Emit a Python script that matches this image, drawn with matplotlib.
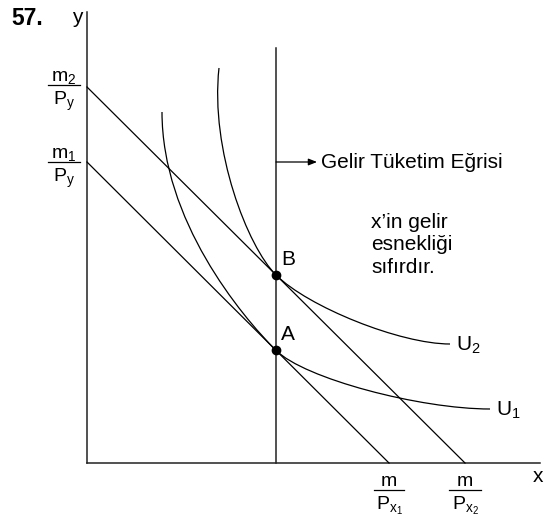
import matplotlib.pyplot as plt
import numpy as np
from matplotlib.path import Path
from matplotlib.patches import PathPatch

plt.rcParams['font.family'] = ['Liberation Sans', 'DejaVu Sans']
plt.rcParams['mathtext.fontset'] = 'custom'
plt.rcParams['mathtext.rm'] = 'Liberation Sans'
plt.rcParams['mathtext.it'] = 'Liberation Sans'

# budget line intercepts (y-axis, x-axis), in diagram units
m1_Py, m_Px1 = 301, 302
m2_Py, m_Px2 = 376, 378
x_icc = 189  # income consumption curve (vertical)
icc_top = 415
x_axis_len, y_axis_len = 453, 451

# indifference curves: top point, end point, control handles
u1_top, u1_top_handle, u1_end, u1_end_handle = (75, 351), (75, 243), (403, 54), (333, 54)
u2_top, u2_top_handle, u2_end, u2_end_handle = (132, 395), (123, 313), (363, 119), (313, 119)
u1_tan_handles = (50, 40)
u2_tan_handles = (40, 45)

fig = plt.figure(figsize=(5.49, 5.23), dpi=100)
ax = fig.add_axes([0, 0, 1, 1])
ax.set_xlim(-87, 462)
ax.set_ylim(-60, 463)
ax.axis('off')

# axes
ax.plot([0, 0], [0, y_axis_len], color='#222222', lw=1.1)
ax.plot([0, x_axis_len], [0, 0], color='#222222', lw=1.1)

# budget lines
ax.plot([0, m_Px1], [m1_Py, 0], color='black', lw=0.9)
ax.plot([0, m_Px2], [m2_Py, 0], color='black', lw=0.9)

# income consumption curve
ax.plot([x_icc, x_icc], [0, icc_top], color='#222222', lw=1.1)

def tangency(b_y, b_x):
    y = b_y * (1 - x_icc / b_x)
    return np.array([x_icc, y]), np.array([1.0, -b_y / b_x]) / np.hypot(1, b_y / b_x)

def draw_u(top, top_h, end, end_h, b_y, b_x, handles):
    p, d = tangency(b_y, b_x)
    verts = [top, top_h, tuple(p - handles[0] * d), tuple(p),
             tuple(p + handles[1] * d), end_h, end]
    codes = [Path.MOVETO] + [Path.CURVE4] * 6
    ax.add_patch(PathPatch(Path(verts, codes), fc='none', ec='black', lw=0.9))
    return p

A = draw_u(u1_top, u1_top_handle, u1_end, u1_end_handle, m1_Py, m_Px1, u1_tan_handles)
B = draw_u(u2_top, u2_top_handle, u2_end, u2_end_handle, m2_Py, m_Px2, u2_tan_handles)

ax.plot([A[0], B[0]], [A[1], B[1]], 'o', color='black', ms=6)

fs = 15
ax.text(B[0] + 5, B[1] + 6, 'B', fontsize=fs, ha='left', va='bottom')
ax.text(A[0] + 5, A[1] + 6, 'A', fontsize=fs, ha='left', va='bottom')
ax.text(u2_end[0] + 6, u2_end[1] - 1, r'$\mathrm{U}_2$', fontsize=fs, ha='left', va='center')
ax.text(u1_end[0] + 6, u1_end[1] - 1, r'$\mathrm{U}_1$', fontsize=fs, ha='left', va='center')

# arrow and labels
ax.annotate('', xy=(x_icc + 41, 301), xytext=(x_icc, 301),
            arrowprops=dict(arrowstyle='-|>,head_length=0.5,head_width=0.2', color='black', lw=0.9,
                            shrinkA=0, shrinkB=0))
ax.text(x_icc + 45, 301, 'Gelir Tüketim Eğrisi', fontsize=fs, ha='left', va='center')
ax.text(284, 250, 'x’in gelir\nesnekliği\nsıfırdır.', fontsize=fs, ha='left', va='top',
        linespacing=1.22)

ax.text(-76, 438, '57.', fontsize=16.5, fontweight='bold', ha='left', va='baseline')
ax.text(-10, 440, 'y', fontsize=fs, ha='center', va='baseline')
ax.text(451, -19, 'x', fontsize=fs, ha='center', va='baseline')

def frac(xc, ybar, num, den, w):
    ax.plot([xc - w / 2, xc + w / 2], [ybar, ybar], color='black', lw=0.9)
    ax.text(xc, ybar + 4, num, fontsize=14, ha='center', va='baseline')
    ax.text(xc, ybar - 5, den, fontsize=14, ha='center', va='top')

frac(-23, m2_Py + 2, r'$\mathrm{m}_2$', r'$\mathrm{P}_y$', 32)
frac(-23, m1_Py, r'$\mathrm{m}_1$', r'$\mathrm{P}_y$', 32)
frac(m_Px1, -27, r'$\mathrm{m}$', r'$\mathrm{P}_{x_1}$', 30)
frac(m_Px2, -27, r'$\mathrm{m}$', r'$\mathrm{P}_{x_2}$', 32)

fig.savefig('out.png', dpi=100)
